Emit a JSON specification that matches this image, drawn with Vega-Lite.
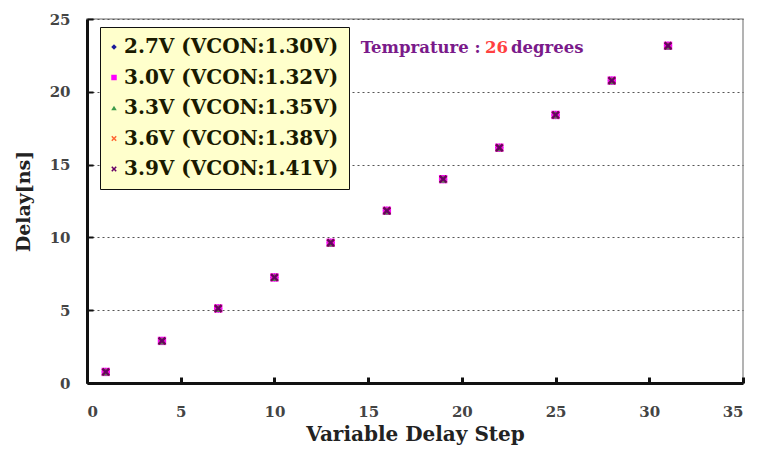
{
  "$schema": "https://vega.github.io/schema/vega-lite/v6.json",
  "width": 656,
  "height": 364,
  "autosize": "none",
  "padding": {"left": 87, "top": 19, "right": 16, "bottom": 67},
  "background": "white",
  "config": {
    "view": {"stroke": "#9a9a9a", "strokeWidth": 1.5},
    "font": "DejaVu Serif"
  },
  "datasets": {
    "pts": [
      {"series": "2.7V (VCON:1.30V)", "step": 1, "delay": 0.76},
      {"series": "2.7V (VCON:1.30V)", "step": 4, "delay": 2.89},
      {"series": "2.7V (VCON:1.30V)", "step": 7, "delay": 5.12},
      {"series": "2.7V (VCON:1.30V)", "step": 10, "delay": 7.25},
      {"series": "2.7V (VCON:1.30V)", "step": 13, "delay": 9.63},
      {"series": "2.7V (VCON:1.30V)", "step": 16, "delay": 11.83},
      {"series": "2.7V (VCON:1.30V)", "step": 19, "delay": 14.0},
      {"series": "2.7V (VCON:1.30V)", "step": 22, "delay": 16.16},
      {"series": "2.7V (VCON:1.30V)", "step": 25, "delay": 18.41},
      {"series": "2.7V (VCON:1.30V)", "step": 28, "delay": 20.77},
      {"series": "2.7V (VCON:1.30V)", "step": 31, "delay": 23.16},
      {"series": "3.0V (VCON:1.32V)", "step": 1, "delay": 0.76},
      {"series": "3.0V (VCON:1.32V)", "step": 4, "delay": 2.89},
      {"series": "3.0V (VCON:1.32V)", "step": 7, "delay": 5.12},
      {"series": "3.0V (VCON:1.32V)", "step": 10, "delay": 7.25},
      {"series": "3.0V (VCON:1.32V)", "step": 13, "delay": 9.63},
      {"series": "3.0V (VCON:1.32V)", "step": 16, "delay": 11.83},
      {"series": "3.0V (VCON:1.32V)", "step": 19, "delay": 14.0},
      {"series": "3.0V (VCON:1.32V)", "step": 22, "delay": 16.16},
      {"series": "3.0V (VCON:1.32V)", "step": 25, "delay": 18.41},
      {"series": "3.0V (VCON:1.32V)", "step": 28, "delay": 20.77},
      {"series": "3.0V (VCON:1.32V)", "step": 31, "delay": 23.16},
      {"series": "3.3V (VCON:1.35V)", "step": 1, "delay": 0.76},
      {"series": "3.3V (VCON:1.35V)", "step": 4, "delay": 2.89},
      {"series": "3.3V (VCON:1.35V)", "step": 7, "delay": 5.12},
      {"series": "3.3V (VCON:1.35V)", "step": 10, "delay": 7.25},
      {"series": "3.3V (VCON:1.35V)", "step": 13, "delay": 9.63},
      {"series": "3.3V (VCON:1.35V)", "step": 16, "delay": 11.83},
      {"series": "3.3V (VCON:1.35V)", "step": 19, "delay": 14.0},
      {"series": "3.3V (VCON:1.35V)", "step": 22, "delay": 16.16},
      {"series": "3.3V (VCON:1.35V)", "step": 25, "delay": 18.41},
      {"series": "3.3V (VCON:1.35V)", "step": 28, "delay": 20.77},
      {"series": "3.3V (VCON:1.35V)", "step": 31, "delay": 23.16},
      {"series": "3.6V (VCON:1.38V)", "step": 1, "delay": 0.76},
      {"series": "3.6V (VCON:1.38V)", "step": 4, "delay": 2.89},
      {"series": "3.6V (VCON:1.38V)", "step": 7, "delay": 5.12},
      {"series": "3.6V (VCON:1.38V)", "step": 10, "delay": 7.25},
      {"series": "3.6V (VCON:1.38V)", "step": 13, "delay": 9.63},
      {"series": "3.6V (VCON:1.38V)", "step": 16, "delay": 11.83},
      {"series": "3.6V (VCON:1.38V)", "step": 19, "delay": 14.0},
      {"series": "3.6V (VCON:1.38V)", "step": 22, "delay": 16.16},
      {"series": "3.6V (VCON:1.38V)", "step": 25, "delay": 18.41},
      {"series": "3.6V (VCON:1.38V)", "step": 28, "delay": 20.77},
      {"series": "3.6V (VCON:1.38V)", "step": 31, "delay": 23.16},
      {"series": "3.9V (VCON:1.41V)", "step": 1, "delay": 0.76},
      {"series": "3.9V (VCON:1.41V)", "step": 4, "delay": 2.89},
      {"series": "3.9V (VCON:1.41V)", "step": 7, "delay": 5.12},
      {"series": "3.9V (VCON:1.41V)", "step": 10, "delay": 7.25},
      {"series": "3.9V (VCON:1.41V)", "step": 13, "delay": 9.63},
      {"series": "3.9V (VCON:1.41V)", "step": 16, "delay": 11.83},
      {"series": "3.9V (VCON:1.41V)", "step": 19, "delay": 14.0},
      {"series": "3.9V (VCON:1.41V)", "step": 22, "delay": 16.16},
      {"series": "3.9V (VCON:1.41V)", "step": 25, "delay": 18.41},
      {"series": "3.9V (VCON:1.41V)", "step": 28, "delay": 20.77},
      {"series": "3.9V (VCON:1.41V)", "step": 31, "delay": 23.16}
    ]
  },
  "layer": [
    {
      "data": {"name": "pts"},
      "mark": {"type": "point", "filled": true, "opacity": 1},
      "encoding": {
        "x": {
          "field": "step", "type": "quantitative",
          "scale": {"domain": [0, 35], "nice": false, "zero": true},
          "axis": {
            "values": [0, 5, 10, 15, 20, 25, 30, 35],
            "title": "Variable Delay Step",
            "titleFont": "DejaVu Serif", "titleFontSize": 20, "titleFontWeight": "bold",
            "titleColor": "#222", "titlePadding": 5,
            "labelFont": "DejaVu Serif", "labelFontSize": 15, "labelFontWeight": "bold",
            "labelColor": "#444", "labelPadding": 27,
            "domainColor": "#111", "domainWidth": 3,
            "tickColor": "#111", "tickWidth": 3, "tickSize": -6,
            "grid": false
          }
        },
        "y": {
          "field": "delay", "type": "quantitative",
          "scale": {"domain": [0, 25], "nice": false},
          "axis": {
            "values": [0, 5, 10, 15, 20, 25],
            "title": "Delay[ns]",
            "titleFont": "DejaVu Serif", "titleFontSize": 19, "titleFontWeight": "bold",
            "titleColor": "#222", "titlePadding": 16,
            "labelFont": "DejaVu Serif", "labelFontSize": 15, "labelFontWeight": "bold",
            "labelColor": "#444", "labelPadding": 23,
            "domainColor": "#111", "domainWidth": 3,
            "tickColor": "#111", "tickWidth": 2, "tickSize": -6,
            "grid": true, "gridColor": "#555", "gridDash": [2, 3], "gridWidth": 1
          }
        },
        "color": {
          "field": "series", "type": "nominal",
          "scale": {
            "domain": ["2.7V (VCON:1.30V)", "3.0V (VCON:1.32V)", "3.3V (VCON:1.35V)", "3.6V (VCON:1.38V)", "3.9V (VCON:1.41V)"],
            "range": ["#1a1a99", "#ff00ff", "#3c9a4a", "#ff6633", "#660066"]
          },
          "legend": {
            "orient": "none", "legendX": 13, "legendY": 8,
            "title": null,
            "fillColor": "#ffffcc", "strokeColor": "#111",
            "padding": 10,
            "labelFont": "DejaVu Serif", "labelFontSize": 20, "labelFontWeight": "bold",
            "labelColor": "#1a1a00", "labelLimit": 400, "labelOffset": 0,
            "symbolOffset": -6,
            "rowPadding": 10.5, "symbolSize": 30,
            "encode": {"legend": {"update": {"strokeWidth": {"value": 2}}}}
          }
        },
        "shape": {
          "field": "series", "type": "nominal",
          "scale": {
            "domain": ["2.7V (VCON:1.30V)", "3.0V (VCON:1.32V)", "3.3V (VCON:1.35V)", "3.6V (VCON:1.38V)", "3.9V (VCON:1.41V)"],
            "range": ["diamond", "square", "triangle-up",
              "M-1,-0.6L-0.6,-1L0,-0.4L0.6,-1L1,-0.6L0.4,0L1,0.6L0.6,1L0,0.4L-0.6,1L-1,0.6L-0.4,0Z",
              "M-1,-0.6L-0.6,-1L0,-0.4L0.6,-1L1,-0.6L0.4,0L1,0.6L0.6,1L0,0.4L-0.6,1L-1,0.6L-0.4,0Z"]
          },
          "legend": null
        },
        "size": {"value": 70}
      }
    },
    {
      "data": {"values": [{"step": 14.6, "delay": 23.0, "label": "Temprature :"}]},
      "mark": {"type": "text", "align": "left", "baseline": "middle", "font": "DejaVu Serif", "fontSize": 16.5, "fontWeight": "bold", "color": "#7a1a8a"},
      "encoding": {
        "x": {"field": "step", "type": "quantitative"},
        "y": {"field": "delay", "type": "quantitative"},
        "text": {"field": "label"}
      }
    },
    {
      "data": {"values": [{"step": 21.23, "delay": 23.0, "label": "26"}]},
      "mark": {"type": "text", "align": "left", "baseline": "middle", "font": "DejaVu Serif", "fontSize": 16.5, "fontWeight": "bold", "color": "#ff4040"},
      "encoding": {
        "x": {"field": "step", "type": "quantitative"},
        "y": {"field": "delay", "type": "quantitative"},
        "text": {"field": "label"}
      }
    },
    {
      "data": {"values": [{"step": 22.62, "delay": 23.0, "label": "degrees"}]},
      "mark": {"type": "text", "align": "left", "baseline": "middle", "font": "DejaVu Serif", "fontSize": 16.5, "fontWeight": "bold", "color": "#7a1a8a"},
      "encoding": {
        "x": {"field": "step", "type": "quantitative"},
        "y": {"field": "delay", "type": "quantitative"},
        "text": {"field": "label"}
      }
    }
  ]
}
